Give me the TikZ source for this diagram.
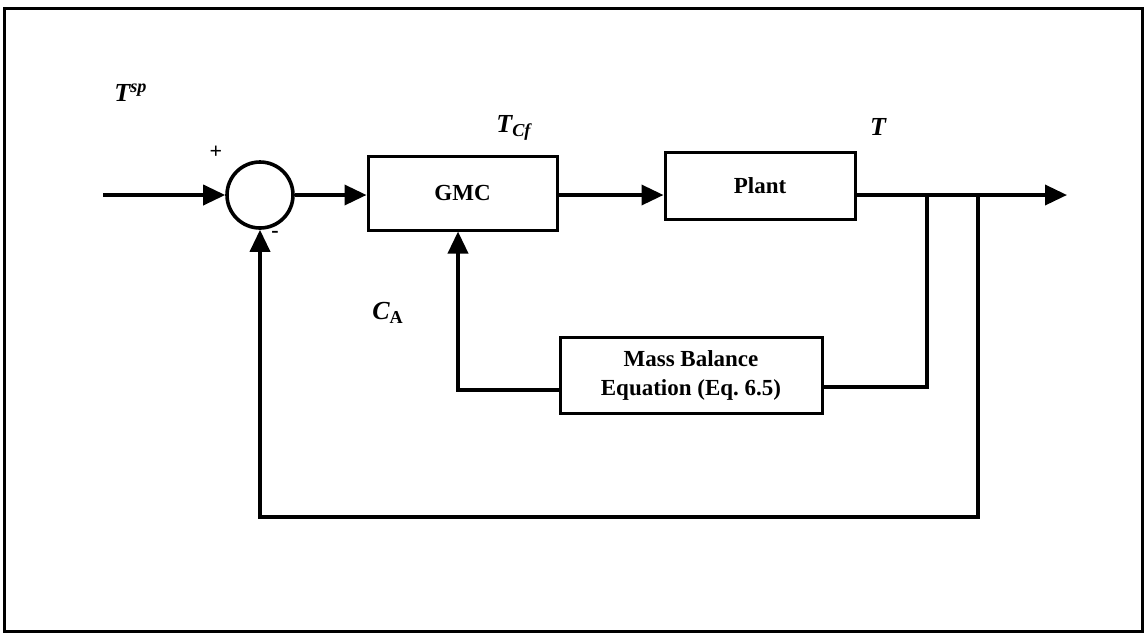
\documentclass[tikz,border=0pt]{standalone}
\usepackage{fontspec}
\setmainfont{Liberation Serif}
\usetikzlibrary{arrows.meta}
\begin{document}
\begin{tikzpicture}[x=0.5pt,y=-0.5pt,
  line width=1.8pt,
  arr/.style={-{Triangle[length=11pt,width=10pt]}},
  blk/.style={draw,rectangle,line width=1.5pt,inner sep=0pt,font=\fontsize{11.5}{13.5}\selectfont\bfseries,align=center},
  lbl/.style={font=\fontsize{13}{15}\selectfont\bfseries\itshape,inner sep=0pt},
  sgn/.style={font=\fontsize{11}{13}\selectfont\bfseries,inner sep=0pt}]
\useasboundingbox (0,0) rectangle (1145,634);
\draw[line width=1.5pt] (4,8) rectangle (1142,631);
% blocks
\node[draw,circle,minimum size=33pt,inner sep=0pt] (sum) at (260,195) {};
\node[blk,minimum width=94.5pt,minimum height=37pt] (gmc) at (462.5,193) {GMC};
\node[blk,minimum width=95pt,minimum height=33.5pt] (plant) at (760,186) {Plant};
\node[blk,minimum width=131pt,minimum height=38pt] (mass) at (691,375) {Mass Balance\\[1pt]Equation (Eq.\ 6.5)};
% coordinates
\coordinate (in) at (103,195);
\coordinate (out) at (1067,195);
\coordinate (b1) at (927,195);
\coordinate (b2) at (978,195);
\coordinate (m1) at (927,387);
\coordinate (m2) at (458,390);
\coordinate (f1) at (978,517);
% connectors
\draw[arr] (in) -- (sum.west);
\draw[arr] (sum.east) -- (gmc.west |- sum.east);
\draw[arr] (gmc.east |- 0,195) -- (plant.west |- 0,195);
\draw[arr] (plant.east |- 0,195) -- (out);
\draw (b1) -- (m1) -- (m1 -| mass.east);
\draw[arr] (mass.west |- m2) -- (m2) -- (m2 |- gmc.south);
\draw[arr] (b2) -- (f1) -| (sum.south);
% labels
\node[lbl] (tsp) at (131,93) {T\textsuperscript{sp}};
\node[lbl] (tcf) at (514,128) {T\textsubscript{Cf}};
\node[lbl] (tout) at (878,127) {T};
\node[lbl] (ca) at (388,313) {C\textsubscript{\upshape A}};
\node[sgn] (plus) at (216,152) {+};
\node[sgn] (minus) at (275,234) {-};
\end{tikzpicture}
\end{document}
